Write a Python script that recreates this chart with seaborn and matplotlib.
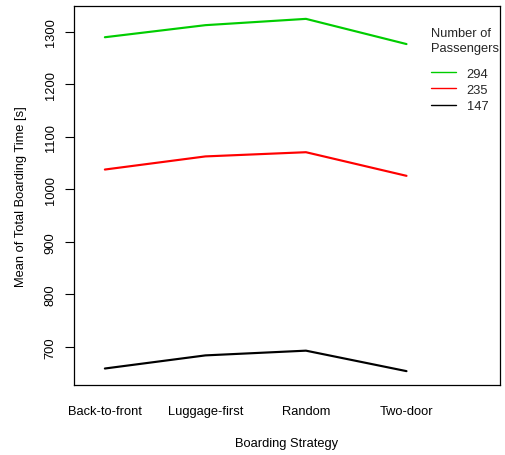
import matplotlib
matplotlib.use("Agg")
import matplotlib.pyplot as plt
import seaborn as sns
import pandas as pd

strategies = ["Back-to-front", "Luggage-first", "Random", "Two-door"]
passengers = [294, 235, 147]
time_294 = [1290, 1313, 1325, 1277]
time_235 = [1038, 1063, 1071, 1026]
time_147 = [659, 684, 693, 654]
line_colors = ["#00CD00", "#FF0000", "#000000"]

rows = []
for n, vals in zip(passengers, [time_294, time_235, time_147]):
    for s, v in zip(strategies, vals):
        rows.append({"Boarding Strategy": s, "Number of Passengers": str(n),
                     "Mean": v})
df = pd.DataFrame(rows)

sns.set_theme(style="white")
plt.rcParams["font.family"] = ["Liberation Sans", "DejaVu Sans"]
FS = 9.3

W, H = 506, 456
fig = plt.figure(figsize=(W / 100, H / 100), dpi=100)
ax = fig.add_axes([74 / W, 1 - 386 / H, (500 - 74) / W, (386 - 7) / H])

sns.lineplot(data=df, x="Boarding Strategy", y="Mean",
             hue="Number of Passengers",
             hue_order=[str(p) for p in passengers],
             palette=line_colors, linewidth=1.55, ax=ax, sort=False,
             legend=True)

ax.set_xlim(-0.307, 3.93)
ax.set_ylim(627.6, 1349.5)
ax.set_yticks([700, 800, 900, 1000, 1100, 1200, 1300])
for sp in ax.spines.values():
    sp.set_color("black")
    sp.set_linewidth(0.9)
    sp.set_visible(True)

ax.tick_params(axis="x", length=0, pad=14.5, labelsize=FS, colors="black")
ax.tick_params(axis="y", left=True, length=6.5, width=0.8, pad=6,
               labelsize=FS, colors="black")
for lab in ax.get_yticklabels():
    lab.set_rotation(90)
    lab.set_va("center")

ax.set_xlabel("Boarding Strategy", fontsize=FS, labelpad=14, color="black")
ax.set_ylabel("Mean of Total Boarding Time [s]", fontsize=FS,
              labelpad=13, color="black")

handles, labels = ax.get_legend_handles_labels()
leg = ax.legend(handles, labels, title="Number of\nPassengers",
                frameon=False, fontsize=FS, title_fontsize=FS,
                loc="upper left", bbox_to_anchor=(431.5 / W, 1 - 28 / H),
                bbox_transform=fig.transFigure, handlelength=1.86,
                handletextpad=0.85, labelspacing=0.33, borderaxespad=0,
                borderpad=0)
leg._legend_box.align = "left"
leg._legend_box.sep = 10
leg.get_title().set_linespacing(1.3)
for h in leg.legend_handles:
    h.set_linewidth(1.0)

fig.savefig("out.png", dpi=100, facecolor="white")
